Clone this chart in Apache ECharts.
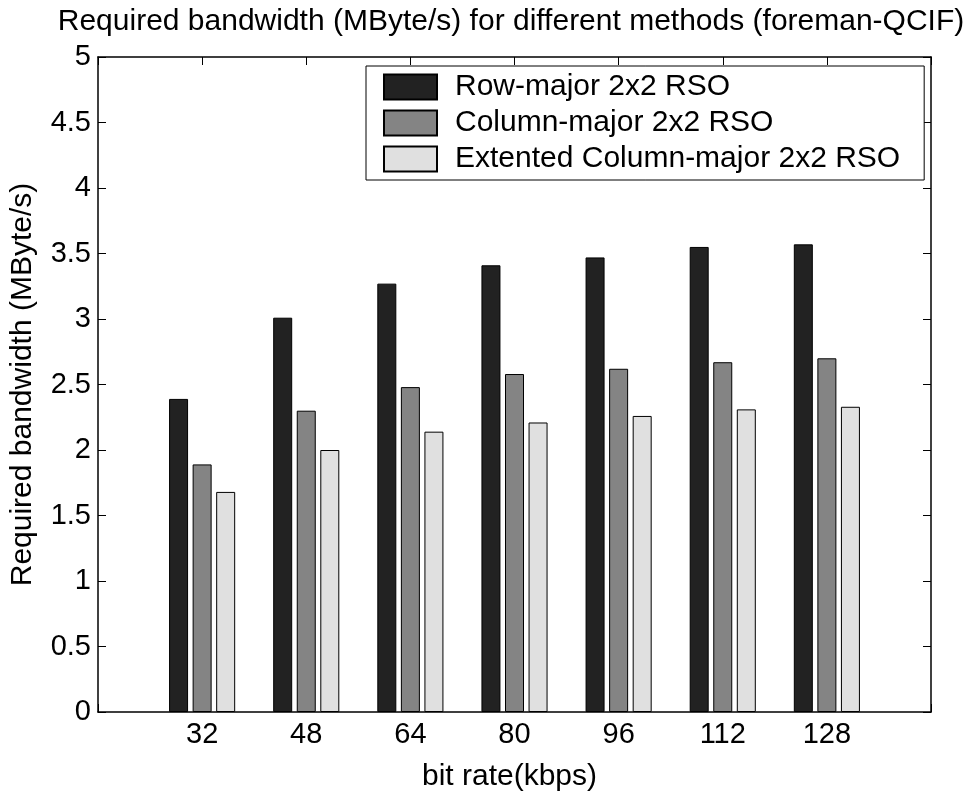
<!DOCTYPE html>
<html>
<head>
<meta charset="utf-8">
<script src="https://cdn.jsdelivr.net/npm/echarts@6/dist/echarts.min.js"></script>
<style>
html,body{margin:0;padding:0;background:#fff;}
#chart{width:978px;height:797px;}
</style>
</head>
<body>
<div id="chart"></div>
<script>
const categories = ['', '32', '48', '64', '80', '96', '112', '128', ''];
const seriesNames = ['Row-major 2x2 RSO', 'Column-major 2x2 RSO', 'Extented Column-major 2x2 RSO'];
const rowMajor = [null, 2.39, 3.01, 3.27, 3.41, 3.47, 3.55, 3.57, null];
const colMajor = [null, 1.89, 2.30, 2.48, 2.58, 2.62, 2.67, 2.70, null];
const extColMajor = [null, 1.68, 2.00, 2.14, 2.21, 2.26, 2.31, 2.33, null];
const yTicks = {min: 0, max: 5, interval: 0.5};
const titleText = 'Required bandwidth (MByte/s) for different methods (foreman-QCIF)';
const xName = 'bit rate(kbps)';
const yName = 'Required bandwidth (MByte/s)';

const FONT = "'Liberation Sans', Arial, Helvetica, sans-serif";
const colors = ['#222222', '#848484', '#e0e0e0'];
const dataSets = [rowMajor, colMajor, extColMajor];

const chart = echarts.init(document.getElementById('chart'), null, {renderer: 'canvas'});

const frameLine = {show: true, onZero: false, lineStyle: {color: '#000', width: 1.5}};
const tick = {show: true, inside: true, length: 8, lineStyle: {color: '#000', width: 1}};

const option = {
  backgroundColor: '#ffffff',
  animation: false,
  textStyle: {fontFamily: FONT},
  grid: {left: 98, right: 47, top: 57, bottom: 83, containLabel: false},
  graphic: [{
    type: 'text', x: 511, y: 7,
    style: {text: titleText, fill: '#000', font: '30px ' + FONT, textAlign: 'center', textVerticalAlign: 'top'}
  }],
  legend: {
    show: true,
    orient: 'vertical',
    left: 366, top: 66,
    padding: [6, 24, 6, 17],
    itemWidth: 53, itemHeight: 25, itemGap: 6,
    borderColor: '#000', borderWidth: 1, backgroundColor: '#fff',
    icon: 'rect',
    selectedMode: false,
    textStyle: {fontSize: 30, color: '#000', fontFamily: FONT, padding: [0, 0, 0, 13]},
    data: seriesNames
  },
  xAxis: [{
    type: 'category', data: categories, boundaryGap: false, position: 'bottom',
    axisLine: frameLine, axisTick: Object.assign({}, tick, {alignWithLabel: true}),
    axisLabel: {show: true, color: '#000', fontSize: 29, fontFamily: FONT, margin: 8, interval: 0},
    splitLine: {show: false},
    name: xName, nameLocation: 'middle', nameGap: 50,
    nameTextStyle: {color: '#000', fontSize: 30, fontFamily: FONT, padding: [0, 10, 0, 0]}
  }, {
    type: 'category', data: categories, boundaryGap: false, position: 'top',
    axisLine: frameLine, axisTick: tick, axisLabel: {show: false}, splitLine: {show: false}
  }],
  yAxis: [{
    type: 'value', min: yTicks.min, max: yTicks.max, interval: yTicks.interval, position: 'left',
    axisLine: frameLine, axisTick: tick,
    axisLabel: {show: true, color: '#000', fontSize: 29, fontFamily: FONT, margin: 7},
    splitLine: {show: false},
    name: yName, nameLocation: 'middle', nameGap: 60, nameRotate: 90,
    nameTextStyle: {color: '#000', fontSize: 30, fontFamily: FONT}
  }, {
    type: 'value', min: yTicks.min, max: yTicks.max, interval: yTicks.interval, position: 'right',
    axisLine: frameLine, axisTick: tick, axisLabel: {show: false}, splitLine: {show: false}
  }],
  series: seriesNames.map((n, i) => ({
    name: n, type: 'bar', xAxisIndex: 0, yAxisIndex: 0,
    data: dataSets[i],
    barWidth: 19, barGap: '24%',
    itemStyle: {color: colors[i], borderColor: '#000', borderWidth: 1}
  }))
};
chart.setOption(option);
</script>
</body>
</html>
